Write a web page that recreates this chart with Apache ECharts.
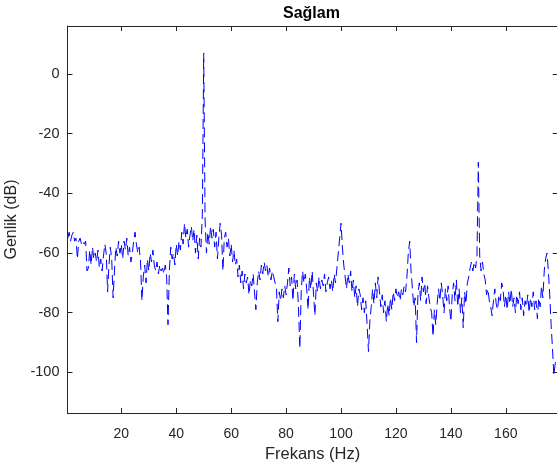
<!DOCTYPE html>
<html>
<head>
<meta charset="utf-8">
<style>
  html, body { margin: 0; padding: 0; background: #ffffff; }
  #chart { width: 557px; height: 470px; }
</style>
<script src="https://cdn.jsdelivr.net/npm/echarts@6/dist/echarts.min.js"></script>
</head>
<body>
<div id="chart"></div>
<script>
// ---- data ----
const titleText = 'Sağlam';
const xName = 'Frekans (Hz)';
const yName = 'Genlik (dB)';
const xTicks = [20, 40, 60, 80, 100, 120, 140, 160];
const yTicks = [-100, -80, -60, -40, -20, 0];
const xRange = [0.4, 178.9];
const yRange = [-113.6, 16.1];
const freqStart = 0.5;   // Hz, first bin
const freqStep = 0.5;    // Hz, bin spacing
// amplitude in dB, one value per 0.5 Hz bin from 0.5 Hz to 178.5 Hz
const amplitudeDb = [
  -55,-53,-56,-54,-53,-56,-55,-62,-56,-55,
  -57,-56,-57,-56,-66,-65,-59,-64,-58,-62,
  -60,-63,-59,-65,-62,-66,-61,-57,-60,-73,
  -64,-58,-62,-75,-66,-58,-61,-56,-60,-57,
  -62,-56,-59,-55,-61,-58,-63,-60,-56,-53,
  -57,-60,-58,-63,-76,-68,-64,-70,-62,-66,
  -60,-63,-59,-64,-66,-63,-67,-64,-66,-65,
  -67,-64,-68,-84,-66,-58,-62,-60,-64,-57,
  -61,-56,-59,-53,-57,-50,-55,-52,-58,-54,
  -51,-56,-52,-60,-54,-62,-55,-58,-47,7,
  -49,-60,-53,-57,-51,-55,-52,-58,-53,-62,
  -55,-50,-54,-66,-55,-53,-58,-55,-61,-57,
  -63,-59,-64,-62,-68,-64,-70,-66,-72,-67,
  -70,-68,-74,-69,-71,-67,-73,-79,-70,-66,
  -69,-64,-67,-63,-66,-64,-68,-65,-69,-66,
  -68,-70,-72,-83,-73,-76,-72,-75,-71,-74,
  -70,-65,-71,-68,-76,-67,-72,-69,-78,-92,
  -73,-66,-70,-67,-72,-79,-68,-72,-66,-74,
  -81,-70,-73,-68,-72,-69,-71,-67,-73,-70,
  -68,-72,-69,-73,-67,-70,-65,-60,-55,-50,
  -58,-64,-68,-72,-67,-70,-66,-73,-69,-75,
  -71,-78,-72,-74,-79,-75,-80,-76,-84,-93,
  -83,-78,-72,-77,-70,-75,-68,-73,-78,-74,
  -80,-76,-83,-77,-81,-75,-79,-73,-76,-72,
  -75,-73,-76,-72,-74,-71,-73,-68,-60,-56,
  -66,-72,-78,-75,-90,-74,-70,-76,-68,-73,
  -70,-77,-71,-75,-78,-80,-88,-79,-84,-77,
  -72,-76,-70,-74,-80,-72,-76,-71,-78,-83,
  -74,-70,-76,-69,-78,-72,-80,-75,-85,-73,
  -77,-70,-68,-65,-63,-66,-63,-65,-61,-29.5,
  -61,-66,-63,-67,-69,-74,-72,-76,-78,-81,
  -76,-72,-77,-79,-74,-76,-70,-72,-78,-74,
  -79,-73,-77,-72,-78,-75,-80,-74,-77,-73,
  -79,-75,-81,-76,-78,-74,-80,-75,-78,-73,
  -79,-76,-82,-75,-78,-71,-75,-66,-62,-60,
  -66,-74,-84,-92,-101,-97,-95
];
const frequencies = amplitudeDb.map((_, i) => freqStart + i * freqStep);
const seriesData = frequencies.map((f, i) => [f, amplitudeDb[i]]);

// ---- chart ----
const FONT = '"Liberation Sans", Arial, Helvetica, sans-serif';
const AXIS_COLOR = '#262626';
const chart = echarts.init(document.getElementById('chart'), null, { renderer: 'canvas' });

const axisLine = { show: true, onZero: false, lineStyle: { color: AXIS_COLOR, width: 1 } };

chart.setOption({
  animation: false,
  backgroundColor: '#ffffff',
  title: {
    text: titleText,
    left: 283,
    top: 6,
    padding: 0,
    textStyle: { fontFamily: FONT, fontSize: 16, fontWeight: 'bold', color: '#000000' }
  },
  grid: { left: 67.5, right: -0.7, top: 26, bottom: 57, containLabel: false, outerBoundsMode: 'none' },
  xAxis: [
    {
      type: 'value', position: 'bottom', min: xRange[0], max: xRange[1],
      axisLine: axisLine, splitLine: { show: false },
      name: xName, nameLocation: 'middle', nameGap: 33,
      nameTextStyle: { fontFamily: FONT, fontSize: 16.5, color: AXIS_COLOR },
      axisTick: { show: true, inside: true, length: 5, customValues: xTicks, lineStyle: { color: AXIS_COLOR } },
      axisLabel: { show: true, customValues: xTicks, margin: 14, fontFamily: FONT, fontSize: 14, color: AXIS_COLOR }
    },
    {
      type: 'value', position: 'top', min: xRange[0], max: xRange[1],
      axisLine: axisLine, splitLine: { show: false },
      axisTick: { show: true, inside: true, length: 5, customValues: xTicks, lineStyle: { color: AXIS_COLOR } },
      axisLabel: { show: false }
    }
  ],
  yAxis: [
    {
      type: 'value', position: 'left', min: yRange[0], max: yRange[1],
      axisLine: axisLine, splitLine: { show: false },
      name: yName, nameLocation: 'middle', nameGap: 38, nameRotate: 90,
      nameTextStyle: { fontFamily: FONT, fontSize: 16, color: AXIS_COLOR },
      axisTick: { show: true, inside: true, length: 5, customValues: yTicks, lineStyle: { color: AXIS_COLOR } },
      axisLabel: { show: true, customValues: yTicks, margin: 8, fontFamily: FONT, fontSize: 14.5, color: AXIS_COLOR }
    },
    {
      type: 'value', position: 'right', min: yRange[0], max: yRange[1],
      axisLine: axisLine, splitLine: { show: false },
      axisTick: { show: true, inside: true, length: 5, customValues: yTicks, lineStyle: { color: AXIS_COLOR } },
      axisLabel: { show: false }
    }
  ],
  series: [{
    type: 'line',
    xAxisIndex: 0,
    yAxisIndex: 0,
    data: seriesData,
    showSymbol: false,
    symbol: 'none',
    clip: true,
    lineStyle: { color: '#0000ff', width: 1, type: [10, 5] }
  }]
});
</script>
</body>
</html>
